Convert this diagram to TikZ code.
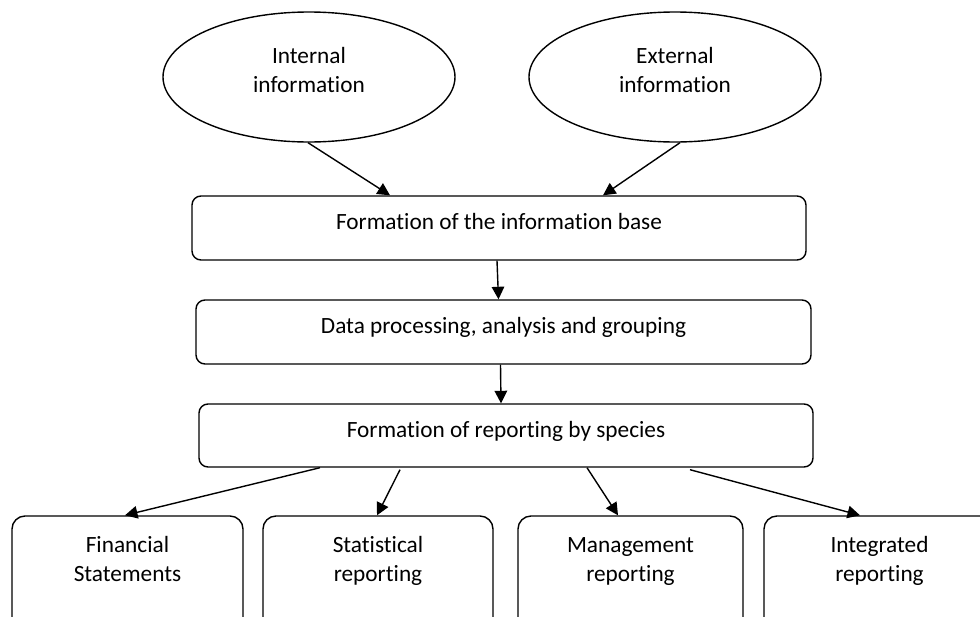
\documentclass[tikz,border=0pt]{standalone}
\usepackage{fontspec}
\setmainfont{Carlito}[Ligatures={NoCommon}]
\usetikzlibrary{shapes.geometric,arrows.meta}
\begin{document}
\begin{tikzpicture}[x=1pt,y=-1pt,
  every node/.style={font=\fontsize{23.3}{29}\selectfont, text=black},
  oval/.style={draw, ellipse, line width=1.4pt, inner sep=0pt, align=center,
    minimum width=292pt, minimum height=130pt, text height=40pt, text depth=9pt},
  wide/.style={draw, rectangle, rounded corners=9pt, line width=1.4pt, inner sep=0pt,
    minimum width=614pt, text height=33pt, text depth=31pt},
  leaf/.style={draw, rectangle, rounded corners=13pt, line width=1.4pt, inner sep=0pt,
    align=center, text height=65pt, text depth=69pt},
  flow/.style={line width=1.4pt, -{Triangle[length=12.5pt,width=12.5pt]}}
]
\useasboundingbox (0,0) rectangle (980,616);
\clip (0,0) rectangle (980,616);

\node[oval] (e1) at (309,77) {Internal\\information};
\node[oval] (e2) at (675,77) {External\\information};

\node[wide] (b1) at (499,228) {Formation of the information base};
\node[wide, minimum width=615pt] (b2) at (503.5,332) {Data processing, analysis and grouping};
\node[wide, text depth=30pt] (b3) at (506,435.5) {Formation of reporting by species};

\node[leaf, minimum width=231pt] (fa) at (127.5,583) {Financial\\Statements};
\node[leaf, minimum width=230pt] (fb) at (378,583) {Statistical\\reporting};
\node[leaf, minimum width=225pt] (fc) at (630.5,583) {Management\\reporting};
\node[leaf, minimum width=231pt] (fd) at (879.5,583) {Integrated\\reporting};

\draw[flow] ([xshift=-1pt]e1.south) -- ([xshift=-109pt]b1.north);
\draw[flow] ([xshift=5pt]e2.south) -- ([xshift=104pt]b1.north);
\draw[flow] ([xshift=-2pt]b1.south) -- ([xshift=-5pt]b2.north);
\draw[flow] ([xshift=-3pt]b2.south) -- ([xshift=-5pt]b3.north);
\draw[flow] ([xshift=-186pt]b3.south) -- ([xshift=-2.5pt]fa.north);
\draw[flow] ([xshift=-106pt,yshift=-2pt]b3.south) -- ([xshift=-1pt]fb.north);
\draw[flow] ([xshift=81pt]b3.south) -- ([xshift=-12.5pt]fc.north);
\draw[flow] ([xshift=184pt,yshift=-2pt]b3.south) -- ([xshift=-19.5pt]fd.north);
\end{tikzpicture}
\end{document}
